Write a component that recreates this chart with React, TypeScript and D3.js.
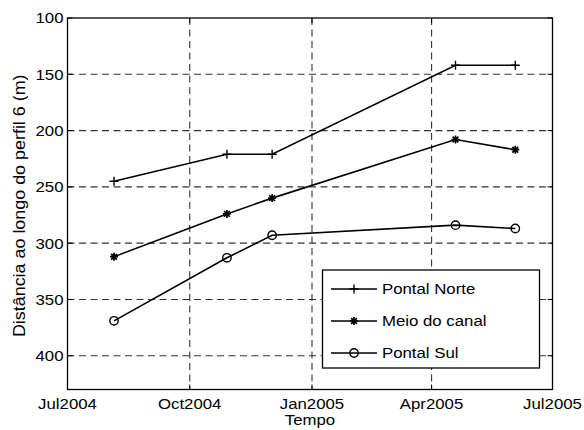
import React from "react";
import * as d3 from "d3";

const dates = ["2004-08-05", "2004-10-29", "2004-12-02", "2005-04-19", "2005-06-03"];
const pontalNorte = [245, 221, 221, 142, 142];
const meioCanal = [312, 274, 260, 208, 217];
const pontalSul = [369, 313, 293, 284, 287];
const seriesNames = ["Pontal Norte", "Meio do canal", "Pontal Sul"];
const markers = ["plus", "star", "circle"];
const xTickDates = ["2004-07-01", "2004-10-01", "2005-01-01", "2005-04-01", "2005-07-01"];
const xTickLabels = ["Jul2004", "Oct2004", "Jan2005", "Apr2005", "Jul2005"];
const yTicks = [100, 150, 200, 250, 300, 350, 400];

const W = 584, H = 430;
const L = 67.5, R = 552.5, T = 18, B = 389.5;
const FONT = "Arial, 'Liberation Sans', Helvetica, sans-serif";

function Marker({ kind, x, y }: { kind: string; x: number; y: number }) {
  if (kind === "plus") {
    return <path d={`M${x - 4.5},${y}H${x + 4.5}M${x},${y - 4.5}V${y + 4.5}`} stroke="#000" strokeWidth={1.4} />;
  }
  if (kind === "star") {
    const r = 4;
    const d = r * 0.72;
    return (
      <path
        d={`M${x - r},${y}H${x + r}M${x},${y - r}V${y + r}M${x - d},${y - d}L${x + d},${y + d}M${x - d},${y + d}L${x + d},${y - d}`}
        stroke="#000"
        strokeWidth={1.7}
      />
    );
  }
  return <circle cx={x} cy={y} r={4.2} fill="none" stroke="#000" strokeWidth={1.4} />;
}

export default function App() {
  const parse = d3.timeParse("%Y-%m-%d");
  const x = d3.scaleTime().domain([parse("2004-07-01")!, parse("2005-07-01")!]).range([L, R]);
  const y = d3.scaleLinear().domain([100, 430]).range([T, B]);
  const series = [pontalNorte, meioCanal, pontalSul];
  const dts = dates.map((d) => parse(d)!);
  const line = d3
    .line<number>()
    .x((_, i) => x(dts[i]))
    .y((v) => y(v));
  const tickLen = 5;
  const fs = 15;
  const sx = 1.12;
  const lgX = 322.5, lgY = 270, lgW = 217, lgH = 98;
  const lgRows = [289, 321, 353];

  return (
    <svg width={W} height={H} style={{ position: "absolute", left: 0, top: 0 }} fontFamily={FONT}>
      <rect x={0} y={0} width={W} height={H} fill="#fff" />
      {/* grid */}
      {yTicks.slice(1).map((t) => (
        <line key={"gy" + t} x1={L} x2={R} y1={y(t)} y2={y(t)} stroke="#333" strokeWidth={1.1} strokeDasharray="7,4.5" />
      ))}
      {xTickDates.slice(1, -1).map((t) => (
        <line key={"gx" + t} x1={x(parse(t)!)} x2={x(parse(t)!)} y1={T} y2={B} stroke="#333" strokeWidth={1.1} strokeDasharray="7,4.5" />
      ))}
      {/* ticks */}
      {yTicks.map((t) => (
        <g key={"ty" + t}>
          <line x1={L} x2={L + tickLen} y1={y(t)} y2={y(t)} stroke="#000" />
          <line x1={R} x2={R - tickLen} y1={y(t)} y2={y(t)} stroke="#000" />
          <text x={L - 4} y={y(t)} dy="0.36em" textAnchor="end" fontSize={fs} transform={`translate(${L - 4},0) scale(${sx},1) translate(${-(L - 4)},0)`}>
            {t}
          </text>
        </g>
      ))}
      {xTickDates.map((t, i) => {
        const xp = x(parse(t)!);
        return (
          <g key={"tx" + t}>
            <line x1={xp} x2={xp} y1={B} y2={B - tickLen} stroke="#000" />
            <line x1={xp} x2={xp} y1={T} y2={T + tickLen} stroke="#000" />
            <text x={xp} y={409} textAnchor="middle" fontSize={fs} transform={`translate(${xp},0) scale(${sx},1) translate(${-xp},0)`}>
              {xTickLabels[i]}
            </text>
          </g>
        );
      })}
      {/* box */}
      <rect x={L} y={T} width={R - L} height={B - T} fill="none" stroke="#000" strokeWidth={1.3} />
      {/* series */}
      {series.map((s, si) => (
        <g key={"s" + si}>
          <path d={line(s) || ""} fill="none" stroke="#000" strokeWidth={1.6} />
          {s.map((v, i) => (
            <Marker key={i} kind={markers[si]} x={x(dts[i])} y={y(v)} />
          ))}
        </g>
      ))}
      {/* legend */}
      <rect x={lgX} y={lgY} width={lgW} height={lgH} fill="#fff" stroke="#000" strokeWidth={1.3} />
      {seriesNames.map((n, i) => (
        <g key={"lg" + i}>
          <line x1={331} x2={377} y1={lgRows[i]} y2={lgRows[i]} stroke="#000" strokeWidth={1.6} />
          <Marker kind={markers[i]} x={354} y={lgRows[i]} />
          <text x={382} y={lgRows[i]} dy="0.36em" fontSize={fs} transform={`translate(382,0) scale(${sx},1) translate(-382,0)`}>
            {n}
          </text>
        </g>
      ))}
      {/* axis labels */}
      <text x={310} y={425.5} textAnchor="middle" fontSize={fs} transform={`translate(310,0) scale(${sx},1) translate(-310,0)`}>
        Tempo
      </text>
      <text
        transform={`translate(25,${(T + B) / 2 + 2}) rotate(-90) scale(${sx},1)`}
        textAnchor="middle"
        fontSize={16}
      >
        Distância ao longo do perfil 6 (m)
      </text>
    </svg>
  );
}
